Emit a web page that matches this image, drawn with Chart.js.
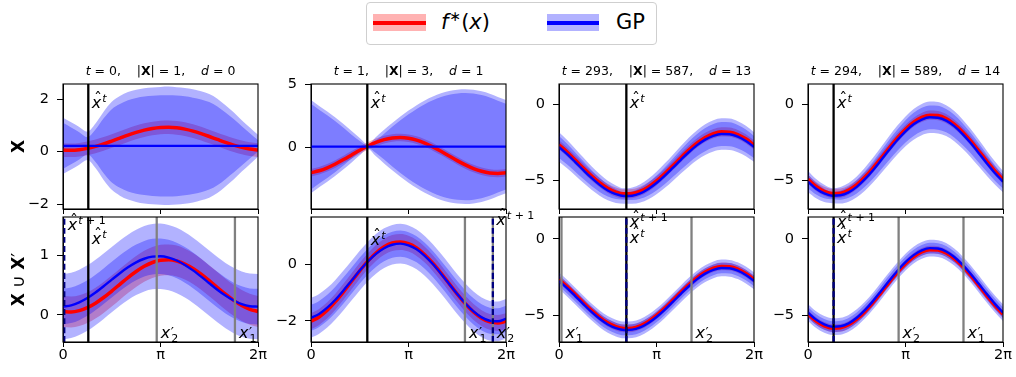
<!DOCTYPE html>
<html><head><meta charset="utf-8">
<script src="https://cdn.jsdelivr.net/npm/chart.js@4.4.1/dist/chart.umd.min.js"></script>
<style>
html,body{margin:0;padding:0;background:#fff}
body{width:1016px;height:377px;position:relative;overflow:hidden;font-family:'DejaVu Sans',sans-serif}
canvas{position:absolute}
.lt{position:absolute;font-size:21px;line-height:21px;color:#000;white-space:nowrap}
</style></head><body>
<div style="position:absolute;left:366px;top:2px;width:291px;height:43px;border:1px solid #cfcfcf;border-radius:4px;box-sizing:border-box;background:#fff"></div>
<div style="position:absolute;left:373px;top:14px;width:53px;height:17px;background:rgba(255,0,0,0.3)"></div>
<div style="position:absolute;left:373px;top:21px;width:53px;height:3.5px;background:#ff0000"></div>
<div class="lt" style="left:441px;top:12px"><i>f</i><span style="position:relative;top:-8px;font-size:14px;margin-left:1px">∗</span>(<i>x</i>)</div>
<div style="position:absolute;left:547px;top:14px;width:52px;height:17px;background:rgba(0,0,255,0.3)"></div>
<div style="position:absolute;left:547px;top:21px;width:52px;height:3.5px;background:#0000ff"></div>
<div class="lt" style="left:616px;top:12px">GP</div>
<script>
// ---------------- data ----------------
const X_GRID = [0,0.262,0.524,0.785,1.047,1.309,1.571,1.833,2.094,2.356,2.618,2.880,3.142,3.403,3.665,3.927,4.189,4.451,4.712,4.974,5.236,5.498,5.760,6.021,6.283];
const X_TICKS = [0, Math.PI, 2*Math.PI];
const X_TICK_LABELS = ['0','π','2π'];

const T_VALUES = [0, 1, 293, 294];
const X_SIZES = [1, 3, 587, 589];
const D_VALUES = [0, 1, 13, 14];

// true function f*(x) per column
const F_STAR_1 = [0.059,0.051,0.073,0.123,0.199,0.294,0.403,0.517,0.630,0.732,0.820,0.884,0.922,0.929,0.908,0.857,0.782,0.686,0.577,0.463,0.350,0.247,0.160,0.096,0.059];
const F_STAR_2 = [-2.020,-1.867,-1.632,-1.328,-0.979,-0.607,-0.238,0.102,0.391,0.608,0.741,0.780,0.720,0.567,0.331,0.028,-0.321,-0.693,-1.060,-1.401,-1.691,-1.908,-2.041,-2.079,-2.020];
const F_STAR_3 = [-2.651,-3.120,-3.640,-4.171,-4.681,-5.130,-5.497,-5.744,-5.860,-5.841,-5.686,-5.401,-5.009,-4.542,-4.022,-3.489,-2.981,-2.528,-2.167,-1.918,-1.798,-1.819,-1.976,-2.259,-2.651];
const F_STAR_4 = [-4.915,-5.379,-5.690,-5.839,-5.814,-5.618,-5.255,-4.761,-4.171,-3.514,-2.842,-2.201,-1.630,-1.174,-0.860,-0.710,-0.736,-0.934,-1.292,-1.787,-2.379,-3.038,-3.708,-4.349,-4.915];

// GP posterior mean, top row (X) and bottom row (X ∪ X')
const GP_MEAN_TOP_1 = [0.22,0.22,0.22,0.22,0.22,0.22,0.22,0.22,0.22,0.22,0.22,0.22,0.22,0.22,0.22,0.22,0.22,0.22,0.22,0.22,0.22,0.22,0.22,0.22,0.22];
const GP_MEAN_TOP_2 = [0.05,0.05,0.05,0.05,0.05,0.05,0.05,0.05,0.05,0.05,0.05,0.05,0.05,0.05,0.05,0.05,0.05,0.05,0.05,0.05,0.05,0.05,0.05,0.05,0.05];
const GP_MEAN_TOP_3 = [-2.79,-3.26,-3.78,-4.31,-4.82,-5.27,-5.64,-5.88,-6.00,-5.98,-5.83,-5.54,-5.15,-4.68,-4.16,-3.63,-3.12,-2.67,-2.31,-2.06,-1.94,-1.96,-2.12,-2.40,-2.79];
const GP_MEAN_TOP_4 = [-5.06,-5.52,-5.83,-5.98,-5.95,-5.76,-5.40,-4.90,-4.31,-3.65,-2.98,-2.34,-1.77,-1.31,-1.00,-0.85,-0.88,-1.07,-1.43,-1.93,-2.52,-3.18,-3.85,-4.49,-5.06];
const GP_MEAN_BOT_1 = [0.141,0.163,0.213,0.286,0.379,0.484,0.595,0.704,0.802,0.886,0.947,0.982,0.989,0.967,0.917,0.843,0.751,0.646,0.535,0.426,0.327,0.244,0.183,0.148,0.141];
const GP_MEAN_BOT_2 = [-1.90,-1.76,-1.54,-1.26,-0.93,-0.58,-0.23,0.09,0.36,0.56,0.68,0.72,0.66,0.52,0.29,0.00,-0.34,-0.70,-1.06,-1.39,-1.67,-1.88,-2.00,-2.02,-1.93];
const GP_MEAN_BOT_3 = [-2.75,-3.22,-3.74,-4.27,-4.78,-5.23,-5.60,-5.84,-5.96,-5.94,-5.79,-5.50,-5.11,-4.64,-4.12,-3.59,-3.08,-2.63,-2.27,-2.02,-1.90,-1.92,-2.08,-2.36,-2.75];
const GP_MEAN_BOT_4 = [-4.82,-5.28,-5.59,-5.74,-5.71,-5.52,-5.16,-4.66,-4.07,-3.41,-2.74,-2.10,-1.53,-1.07,-0.76,-0.61,-0.64,-0.83,-1.19,-1.69,-2.28,-2.94,-3.61,-4.25,-4.82];

// band half-widths (outer / inner)
const GP_OUTER_TOP_1 = [1.07,0.90,0.72,0.54,0.85,1.30,1.68,1.90,2.05,2.14,2.20,2.23,2.25,2.26,2.24,2.21,2.16,2.08,1.98,1.80,1.55,1.28,0.98,0.70,0.42];
const GP_INNER_TOP_1 = [0.88,0.70,0.52,0.33,0.62,1.05,1.40,1.60,1.74,1.83,1.88,1.91,1.93,1.93,1.92,1.89,1.84,1.77,1.67,1.50,1.27,1.02,0.75,0.48,0.22];
const GP_OUTER_TOP_2 = [3.70,3.23,2.79,2.31,1.80,1.25,0.69,0.19,0.77,1.33,1.87,2.39,2.86,3.29,3.67,3.98,4.23,4.41,4.52,4.55,4.51,4.39,4.20,3.94,3.70];
const GP_INNER_TOP_2 = [3.40,2.93,2.49,2.01,1.50,0.95,0.45,0.08,0.50,1.03,1.57,2.09,2.56,2.99,3.37,3.68,3.93,4.11,4.22,4.25,4.21,4.09,3.90,3.64,3.40];
const GP_OUTER_TOP_3 = [0.97,0.93,0.88,0.83,0.77,0.71,0.64,0.57,0.50,0.53,0.60,0.67,0.74,0.80,0.85,0.90,0.95,0.98,1.01,1.02,1.03,1.03,1.02,1.00,0.97];
const GP_INNER_TOP_3 = [0.72,0.68,0.63,0.58,0.52,0.46,0.39,0.32,0.25,0.28,0.35,0.42,0.49,0.55,0.60,0.65,0.70,0.73,0.76,0.77,0.78,0.78,0.77,0.75,0.72];
const GP_OUTER_TOP_4 = [0.70,0.63,0.56,0.49,0.54,0.61,0.68,0.75,0.81,0.86,0.91,0.95,0.98,1.01,1.02,1.03,1.03,1.01,0.99,0.96,0.92,0.88,0.82,0.76,0.70];
const GP_INNER_TOP_4 = [0.45,0.38,0.31,0.24,0.29,0.36,0.43,0.50,0.56,0.61,0.66,0.70,0.73,0.76,0.77,0.78,0.78,0.76,0.74,0.71,0.67,0.63,0.57,0.51,0.45];
const GP_OUTER_BOT = [0.55, 0.70, 0.55, 0.55];
const GP_INNER_BOT = [0.30, 0.46, 0.35, 0.35];
const F_BAND_TOP = [0.26, 0.30, 0.30, 0.30];
const F_BAND_BOT = [0.26, 0.28, 0.25, 0.25];

// vertical markers
const XHAT_T = [0.815, 1.814, 2.17, 0.825];
const XHAT_NEXT = [0.04, 5.86, 2.17, 0.825];
const XPRIME_1 = [5.54, 4.96, 0.08, 5.01];
const XPRIME_2 = [3.02, 5.86, 4.27, 2.92];

// axis limits & ticks
const TOP_Y_LIMITS = [[-2.19,2.58],[-4.9,5.02],[-6.85,1.33],[-6.85,1.33]];
const BOT_Y_LIMITS = [[-0.455,1.65],[-2.75,1.66],[-6.75,1.44],[-6.74,1.42]];
const TOP_Y_TICKS = [[-2,0,2],[0,5],[-5,0],[-5,0]];
const BOT_Y_TICKS = [[0,1],[-2,0],[-5,0],[-5,0]];

// ---------------- layout / style ----------------
const COL_LEFT = [63, 311, 559, 808];
const ROW_TOP = [84, 217];
const PW = 195, PH = 125;
const PADL = 60, PADT = 30, PADR = 42, PADB = 30;
const FAM = '"DejaVu Sans"';
Chart.defaults.font.family = FAM;

function fmt(v){ return v < 0 ? '\u2212' + Math.abs(v) : String(v); }
function wv(w,i){ return typeof w === 'number' ? w : w[i]; }
function pts(mu, w, s){ return X_GRID.map((x,i)=>({x, y: mu[i] + s*(w===0?0:wv(w,i))})); }

function richWidth(ctx, parts, size){
  let t = 0;
  for (const [s, st] of parts){ ctx.font = (st==='i'?'italic ':st==='b'?'bold ':'') + size + 'px ' + FAM; t += ctx.measureText(s).width; }
  return t;
}
function richDraw(ctx, parts, size, x, y){
  for (const [s, st] of parts){ ctx.font = (st==='i'?'italic ':st==='b'?'bold ':'') + size + 'px ' + FAM; ctx.fillText(s, x, y); x += ctx.measureText(s).width; }
  return x;
}
function drawHat(ctx, x, base, sup){
  ctx.font = 'italic 16px ' + FAM;
  ctx.fillText('x', x, base);
  const wx = ctx.measureText('x').width;
  ctx.font = '16px ' + FAM;
  const wh = ctx.measureText('\u02C6').width;
  ctx.fillText('\u02C6', x + (wx - wh)/2 + 1.5, base - 4);
  const parts = sup === 't1' ? [['t','i'],[' + 1','r']] : [['t','i']];
  richDraw(ctx, parts, 11, x + wx + 1, base - 6.5);
}
function drawPrime(ctx, x, base, sub){
  ctx.font = 'italic 16px ' + FAM;
  ctx.fillText('x', x, base);
  const wx = ctx.measureText('x').width;
  ctx.font = '14px ' + FAM;
  ctx.fillText('\u2032', x + wx + 0.5, base - 1);
  ctx.font = '11px ' + FAM;
  ctx.fillText(sub, x + wx + 1, base + 4);
}

function buildPanel(row, col){
  const top = row === 0;
  const f = [F_STAR_1,F_STAR_2,F_STAR_3,F_STAR_4][col];
  const mu = top ? [GP_MEAN_TOP_1,GP_MEAN_TOP_2,GP_MEAN_TOP_3,GP_MEAN_TOP_4][col] : [GP_MEAN_BOT_1,GP_MEAN_BOT_2,GP_MEAN_BOT_3,GP_MEAN_BOT_4][col];
  const outer = top ? [GP_OUTER_TOP_1,GP_OUTER_TOP_2,GP_OUTER_TOP_3,GP_OUTER_TOP_4][col] : GP_OUTER_BOT[col];
  const inner = top ? [GP_INNER_TOP_1,GP_INNER_TOP_2,GP_INNER_TOP_3,GP_INNER_TOP_4][col] : GP_INNER_BOT[col];
  const fb = top ? F_BAND_TOP[col] : F_BAND_BOT[col];
  const ylim = top ? TOP_Y_LIMITS[col] : BOT_Y_LIMITS[col];
  const yt = top ? TOP_Y_TICKS[col] : BOT_Y_TICKS[col];

  const bandStyle = {borderWidth:0, pointRadius:0, backgroundColor:'rgba(0,0,255,0.3)'};
  const ds = [
    {data: pts(f, fb, 1), fill:'+1', order:100, borderWidth:0, pointRadius:0, backgroundColor:'rgba(255,0,0,0.3)'},
    {data: pts(f, fb, -1), fill:false, order:99, borderWidth:0, pointRadius:0, backgroundColor:'rgba(255,0,0,0.3)'},
    Object.assign({data: pts(mu, outer, 1), fill:'+1', order:90}, bandStyle),
    Object.assign({data: pts(mu, outer, -1), fill:false, order:89}, bandStyle),
    Object.assign({data: pts(mu, inner, 1), fill:'+1', order:80}, bandStyle),
    Object.assign({data: pts(mu, inner, -1), fill:false, order:79}, bandStyle),
    {data: pts(f, 0, 1), fill:false, order:50, borderColor:'#ff0000', borderWidth:3.5, pointRadius:0},
    {data: pts(mu, 0, 1), fill:false, order:40, borderColor:'#0000ff', borderWidth:2.4, pointRadius:0},
  ];
  const vline = (v, color, dash, order) => ({data:[{x:v,y:ylim[0]},{x:v,y:ylim[1]}], fill:false, borderColor:color, borderWidth:2.3, borderDash:dash, pointRadius:0, order});
  const labels = [];
  if (top){
    ds.push(vline(XHAT_T[col], '#000000', [], 10));
    labels.push({k:'hat', x:XHAT_T[col], dy:24, sup:'t'});
  } else {
    ds.push(vline(XPRIME_1[col], '#808080', [], 12));
    ds.push(vline(XPRIME_2[col], '#808080', [], 12));
    ds.push(vline(XHAT_T[col], '#000000', [], 11));
    ds.push(vline(XHAT_NEXT[col], '#000080', [6,3], 9));
    const dyNext = [13, 8, 10, 10][col], dyT = [27, 28, 26, 26][col];
    labels.push({k:'hat', x:XHAT_NEXT[col], dy:dyNext, sup:'t1'});
    labels.push({k:'hat', x:XHAT_T[col], dy:dyT, sup:'t'});
    labels.push({k:'prime', x:XPRIME_1[col], sub:'1'});
    labels.push({k:'prime', x:XPRIME_2[col], sub:'2'});
  }

  const cv = document.createElement('canvas');
  const W = PADL + PW + PADR, H = PADT + PH + PADB;
  cv.width = W; cv.height = H;
  cv.style.left = (COL_LEFT[col] - PADL) + 'px';
  cv.style.top = (ROW_TOP[row] - PADT) + 'px';
  cv.style.width = W + 'px'; cv.style.height = H + 'px';
  document.body.appendChild(cv);

  const textPlugin = {
    id: 'txt' + row + col,
    afterDatasetsDraw(chart){
      const a = chart.chartArea, ctx = chart.ctx;
      ctx.save();
      ctx.strokeStyle = '#000'; ctx.lineWidth = 1.1;
      ctx.strokeRect(a.left, a.top, a.right - a.left, a.bottom - a.top);
      ctx.restore();
    },
    afterDraw(chart){
      const a = chart.chartArea, ctx = chart.ctx, xs = chart.scales.x;
      ctx.save();
      ctx.fillStyle = '#000'; ctx.textAlign = 'left'; ctx.textBaseline = 'alphabetic';
      for (const L of labels){
        const px = xs.getPixelForValue(L.x);
        if (L.k === 'hat') drawHat(ctx, px + 3.5, a.top + L.dy, L.sup);
        else drawPrime(ctx, px + 4, a.bottom - 4.5, L.sub);
      }
      if (top){
        const parts = [['t','i'],[' = ' + T_VALUES[col] + ',    |','r'],['X','b'],['| = ' + X_SIZES[col] + ',    ','r'],['d','i'],[' = ' + D_VALUES[col],'r']];
        const w = richWidth(ctx, parts, 12.5);
        richDraw(ctx, parts, 12.5, (a.left + a.right)/2 - w/2, a.top - 9);
      }
      if (col === 0){
        ctx.translate(a.left - 45, (a.top + a.bottom)/2);
        ctx.rotate(-Math.PI/2);
        const parts = top ? [['X','b']] : [['X','b'],[' \u222A ','r'],['X','b'],['\u2032','r']];
        const w = richWidth(ctx, parts, 17);
        richDraw(ctx, parts, 17, -w/2, 6);
      }
      ctx.restore();
    }
  };

  new Chart(cv, {
    type:'line',
    data:{datasets: ds},
    options:{
      responsive:false, animation:false, devicePixelRatio:1,
      layout:{padding:{left:0, top:PADT, right:PADR, bottom:0}},
      plugins:{legend:{display:false}, tooltip:{enabled:false}},
      elements:{line:{cubicInterpolationMode:'monotone'}, point:{radius:0}},
      scales:{
        x:{type:'linear', min:0, max:2*Math.PI,
           afterBuildTicks: s => { s.ticks = X_TICKS.map(v => ({value:v})); },
           afterFit: s => { s.height = PADB; },
           ticks:{autoSkip:false, maxRotation:0, minRotation:0, color:'#000', font:{size:14.5}, padding:0,
                  callback:(v,i) => top ? '' : X_TICK_LABELS[i]},
           grid:{drawOnChartArea:false, drawTicks:true, tickLength:5, tickColor:'#000', tickWidth:1},
           border:{display:true, color:'#000', width:1}},
        y:{type:'linear', min:ylim[0], max:ylim[1],
           afterBuildTicks: s => { s.ticks = yt.map(v => ({value:v})); },
           afterFit: s => { s.width = PADL; },
           ticks:{autoSkip:false, color:'#000', font:{size:14.5}, padding:8, callback:(v,i) => fmt(yt[i])},
           grid:{drawOnChartArea:false, drawTicks:true, tickLength:6, tickColor:'#000', tickWidth:1},
           border:{display:true, color:'#000', width:1}}
      }
    },
    plugins:[textPlugin]
  });
}

for (let r = 0; r < 2; r++) for (let c = 0; c < 4; c++) buildPanel(r, c);
</script>
</body></html>
